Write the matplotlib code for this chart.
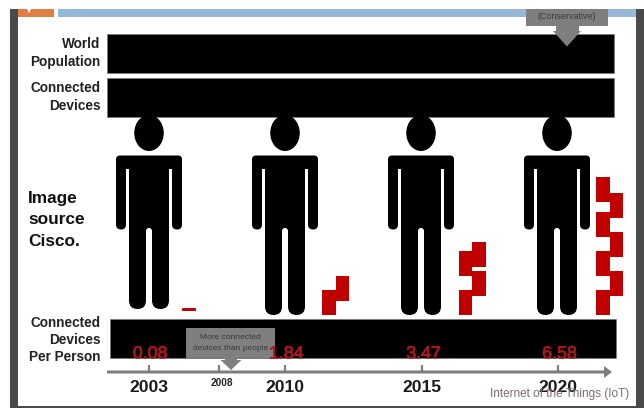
import matplotlib
matplotlib.use("Agg")
import matplotlib.pyplot as plt
import matplotlib.patheffects as pe
from matplotlib.patches import Rectangle, FancyBboxPatch, Ellipse, Polygon

plt.rcParams['font.family'] = ['Liberation Sans', 'DejaVu Sans']

years = ['2003', '2010', '2015', '2020']
devices_per_person = [0.08, 1.84, 3.47, 6.58]
value_labels = ['0.08', '1.84', '3.47', '6.58']
row_labels = ['World\nPopulation', 'Connected\nDevices', 'Connected\nDevices\nPer Person']
side_labels = ['Image', 'source', 'Cisco.']

RED = '#c00000'
GREY = '#7f7f7f'
PX_PER_DEVICE = 21


def rounded(ax, x0, y0, x1, y1, r, color='black', zorder=3):
    ax.add_patch(FancyBboxPatch((x0 + r, y0 + r), x1 - x0 - 2 * r, y1 - y0 - 2 * r,
                                boxstyle=f'round,pad={r},rounding_size={r}',
                                fc=color, ec='none', zorder=zorder))


def draw_person(ax, cx, bottom):
    ax.add_patch(Ellipse((cx, 133), 29.5, 36, fc='black', ec='none', zorder=3))
    # shoulders and trunk
    rounded(ax, cx - 33, 155.5, cx + 33, 169, 4)
    ax.add_patch(Rectangle((cx - 20, 162), 40, 78, fc='black', ec='none', zorder=3))
    # arms
    rounded(ax, cx - 33, 160, cx - 23, 229.5, 5)
    rounded(ax, cx + 23, 160, cx + 33, 229.5, 5)
    # legs, the white strip keeps them apart
    rounded(ax, cx - 20, 220, cx - 3, bottom, 8.5)
    rounded(ax, cx + 3, 220, cx + 20, bottom, 8.5)
    rounded(ax, cx - 3, 228, cx + 3, bottom + 2, 3, color='white', zorder=3.5)


def draw_stack(ax, x0, bottom, value):
    # zig-zag pile of device blocks, its total height follows the value
    total = value * PX_PER_DEVICE
    block, pitch, col = 25, 19.5, 13.5
    if total < block:
        ax.add_patch(Rectangle((x0, bottom - total), col, total, fc=RED, ec=RED, lw=0.7, zorder=4))
        return
    k = 0
    while k * pitch < total - block + pitch:
        top = min(k * pitch + block, total)
        x = x0 + col * (k % 2)
        ax.add_patch(Rectangle((x, bottom - top), col, block, fc=RED, ec='none', zorder=4))
        k += 1


fig = plt.figure(figsize=(6.44, 4.08), dpi=100)
ax = fig.add_axes([0, 0, 1, 1])
ax.set_xlim(0, 644)
ax.set_ylim(408, 0)
ax.axis('off')

# slide frame
ax.add_patch(Rectangle((18, 9), 36, 8, fc='#e07f45', ec='none'))
ax.add_patch(Rectangle((58, 9), 578, 8, fc='#94b8d6', ec='none'))
ax.add_patch(Rectangle((10.5, 9), 8, 399, fc='#4a4a4a', ec='none'))
ax.add_patch(Rectangle((636, 9), 8, 399, fc='#4a4a4a', ec='none'))
ax.add_patch(Rectangle((18, 406), 618, 2, fc='#4a4a4a', ec='none'))
ax.add_patch(Polygon([(27, 9), (31, 9), (29, 13)], fc='white', ec='none'))

# black bands
ax.add_patch(Rectangle((107, 33.5), 507, 39, fc='black', ec='#777777', lw=0.4, zorder=1))
ax.add_patch(Rectangle((107, 77.5), 507, 39, fc='black', ec='#777777', lw=0.4, zorder=1))
ax.add_patch(Rectangle((110, 319), 506.5, 39, fc='black', ec='#777777', lw=0.4, zorder=1))

# row captions
for label, ymid in zip(row_labels, [53, 97, 340]):
    ax.text(100.5, ymid, label, ha='right', va='center', fontsize=9.8, fontweight='bold',
            color='#222222', linespacing=1.28)
for label, y in zip(side_labels, [198, 220, 242]):
    ax.text(28, y, label, ha='left', va='center', fontsize=12.4, fontweight='bold', color='#111111')

# people and device piles
person_x = [149, 285, 421, 557]
person_bottom = [309, 315, 315, 315]
stack_x = [182, 322.5, 459, 596.5]
stack_bottom = [310, 315, 315, 315]
for cx, pb, sx, sb, v in zip(person_x, person_bottom, stack_x, stack_bottom, devices_per_person):
    draw_person(ax, cx, pb)
    draw_stack(ax, sx, sb, v)

# timeline
ax.add_patch(Polygon([(107, 370.5), (604, 370.5), (604, 366), (612, 372), (604, 378),
                      (604, 373.5), (107, 373.5)], fc=GREY, ec='none', zorder=2))
tick_x = [148.7, 284.7, 422, 558]
for x in tick_x + [219]:
    ax.plot([x, x], [365, 371], color=GREY, lw=1.6, solid_capstyle='butt', zorder=2)
for x, year in zip(tick_x, years):
    ax.text(x, 388, year, ha='center', va='center', fontsize=12.6, fontweight='bold', color='#1a1a1a', zorder=5)
ax.text(221.5, 382.5, '2008', ha='center', va='center', fontsize=7.2, fontweight='bold', color='#222222', zorder=5)
for x, label in zip(tick_x, value_labels):
    ax.text(x + 1.5, 354, label, ha='center', va='center', fontsize=12.8, color='#b0161c', zorder=5,
            path_effects=[pe.withStroke(linewidth=0.5, foreground='#b0161c')])

# lower callout
ax.add_patch(Rectangle((186, 328), 89, 29.5, fc=GREY, ec='none', zorder=4))
ax.add_patch(Polygon([(225, 357), (237, 357), (237, 360), (241.5, 360), (231, 370), (220.5, 360), (225, 360)],
                     fc=GREY, ec='none', zorder=4))
ax.text(230.5, 337.5, 'More connected', ha='center', va='center', fontsize=6, color='#3a3a3a', zorder=5)
ax.text(230.5, 348.5, 'devices than people', ha='center', va='center', fontsize=6, color='#3a3a3a', zorder=5)

# upper callout
ax.add_patch(Rectangle((526, 9), 82.5, 16.5, fc=GREY, ec='none', zorder=4))
ax.add_patch(Polygon([(556, 25), (579, 25), (579, 31), (581, 31), (567, 46.5), (553, 31), (556, 31)],
                     fc=GREY, ec='none', zorder=4))
ax.text(567, 16.5, '(Conservative)', ha='center', va='center', fontsize=6.4, color='#3a3a3a', zorder=5)

ax.text(629, 394, 'Internet of the Things (IoT)', ha='right', va='center', fontsize=8.5, color='#7d6a6a', zorder=6)

fig.savefig('out.png', dpi=100)
